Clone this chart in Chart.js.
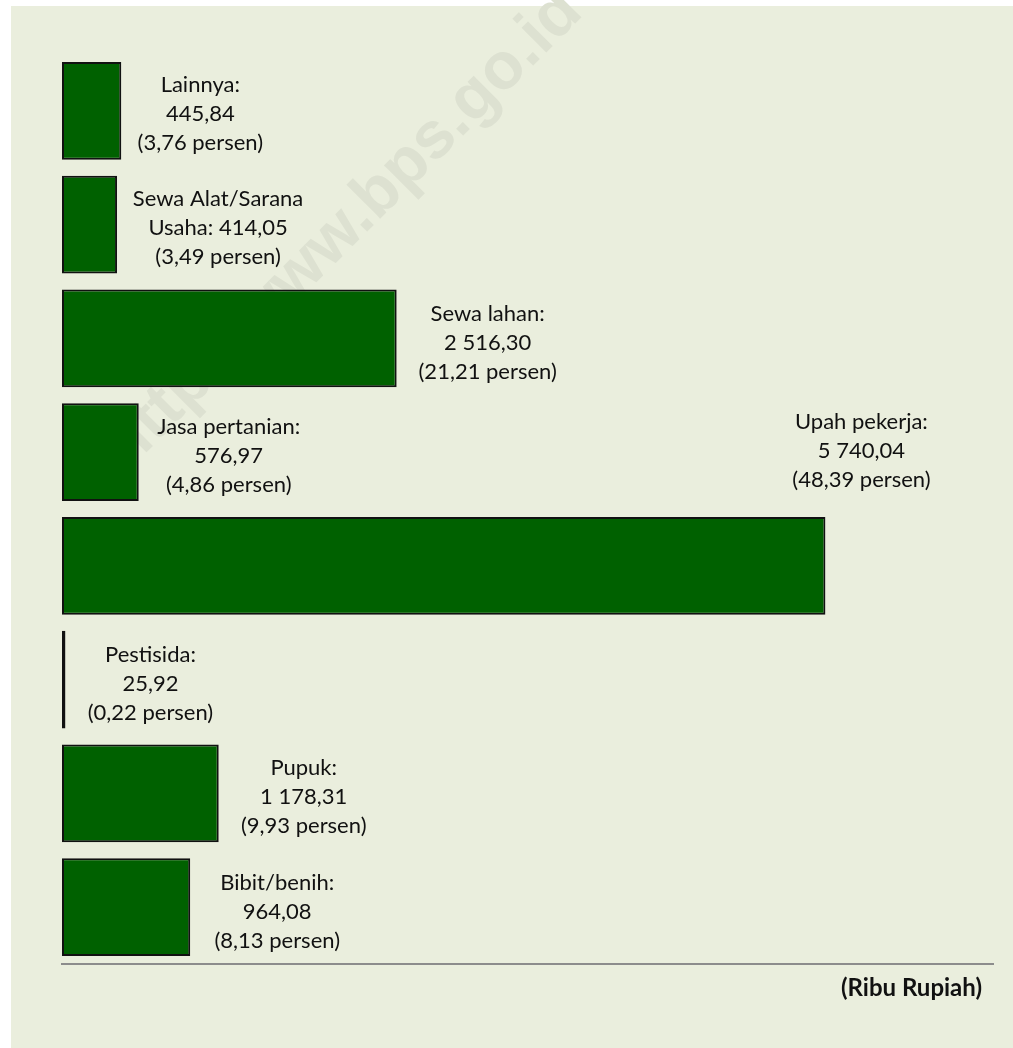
<!DOCTYPE html>
<html>
<head>
<meta charset="utf-8">
<script src="https://cdn.jsdelivr.net/npm/chart.js@4"></script>
<style>
  body { margin: 0; background: #ffffff; }
  #wadah { width: 1013px; height: 1048px; }
</style>
</head>
<body>
<div id="wadah"><canvas id="grafik" width="1013" height="1048"></canvas></div>
<script>
// Rata-rata biaya produksi per jenis pengeluaran (ribu rupiah)
const kategori = ['Lainnya', 'Sewa Alat/Sarana\nUsaha', 'Sewa lahan', 'Jasa pertanian',
                  'Upah pekerja', 'Pestisida', 'Pupuk', 'Bibit/benih'];
const nilai = [445.84, 414.05, 2516.30, 576.97, 5740.04, 25.92, 1178.31, 964.08];
const persen = [3.76, 3.49, 21.21, 4.86, 48.39, 0.22, 9.93, 8.13];
const satuan = '(Ribu Rupiah)';

// Geser label [dx dari ujung batang, dy dari tengah batang]
const geserLabel = [[79, 3], [101, 3], [91, 5], [90, 4], [36, -115], [85, 4], [85, 4], [87, 5]];

const hurufLabel = 'Lato, "Open Sans", sans-serif';

// Format angka gaya Indonesia: 5 740,04
function formatAngka(v) {
    const [bulat, desimal] = v.toFixed(2).split('.');
    return bulat.replace(/\B(?=(\d{3})+(?!\d))/g, ' ') + ',' + desimal;
}

function barisLabel(i) {
    const nama = kategori[i].split('\n');
    const angka = formatAngka(nilai[i]);
    const pr = '(' + persen[i].toFixed(2).replace('.', ',') + ' persen)';
    if (nama.length > 1) return [nama[0], nama[1] + ': ' + angka, pr];
    return [nama[0] + ':', angka, pr];
}

// Latar belakang dan tanda air
const latarPlugin = {
    id: 'latar',
    beforeDraw(chart) {
        const ctx = chart.ctx;
        ctx.save();
        ctx.fillStyle = '#eaeedd';
        ctx.fillRect(11, 6, chart.width - 11, chart.height - 6);
        ctx.translate(343, 230);
        ctx.rotate(-Math.PI / 4);
        ctx.font = 'bold 66px "Liberation Sans", Arial, sans-serif';
        ctx.fillStyle = '#dde1d1';
        ctx.textAlign = 'center';
        ctx.textBaseline = 'middle';
        ctx.fillText('http://www.bps.go.id', 0, 0);
        ctx.restore();
    }
};

// Label nilai di samping batang + satuan di kanan bawah
const labelPlugin = {
    id: 'labelBatang',
    afterDatasetsDraw(chart) {
        const ctx = chart.ctx;
        const meta = chart.getDatasetMeta(0);
        ctx.save();
        ctx.fillStyle = '#111111';
        ctx.font = '22px ' + hurufLabel;
        ctx.textAlign = 'center';
        ctx.textBaseline = 'middle';
        meta.data.forEach((bar, i) => {
            const [dx, dy] = geserLabel[i];
            const cx = bar.x + dx;
            const cy = bar.y + dy;
            barisLabel(i).forEach((teks, j) => {
                ctx.fillText(teks, cx, cy + (j - 1) * 29);
            });
        });
        ctx.font = 'bold 24px ' + hurufLabel;
        ctx.textAlign = 'right';
        ctx.fillText(satuan, chart.chartArea.right - 11, chart.chartArea.bottom + 24);
        ctx.restore();
    }
};

new Chart(document.getElementById('grafik'), {
    type: 'bar',
    data: {
        labels: kategori.map(k => k.replace('\n', ' ')),
        datasets: [{
            data: nilai,
            backgroundColor: '#006100',
            borderColor: '#111111',
            borderWidth: 2,
            borderSkipped: false,
            barPercentage: 0.86,
            categoryPercentage: 1
        }]
    },
    options: {
        indexAxis: 'y',
        responsive: false,
        animation: false,
        devicePixelRatio: 1,
        layout: { padding: { left: 62, right: 20, top: 54, bottom: 84 } },
        plugins: {
            legend: { display: false },
            tooltip: { enabled: false }
        },
        scales: {
            x: {
                min: 0,
                max: 7000,
                grid: { display: false, drawTicks: false },
                ticks: { display: false },
                border: { color: '#8c8c8c', width: 2 }
            },
            y: { display: false }
        }
    },
    plugins: [latarPlugin, labelPlugin]
});
</script>
</body>
</html>
